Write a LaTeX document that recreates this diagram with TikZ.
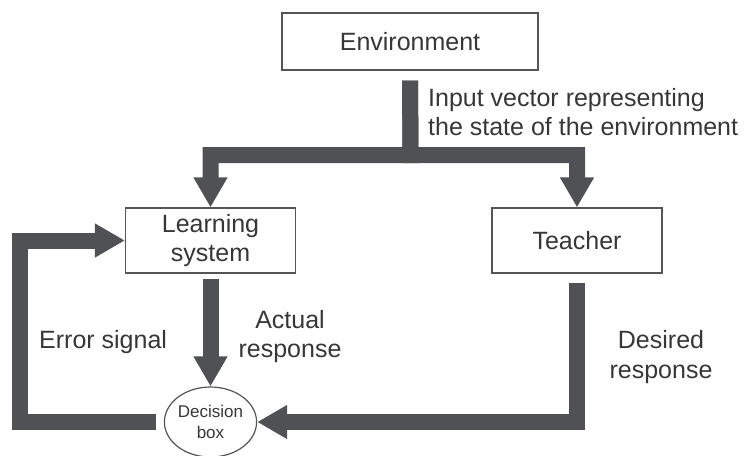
\documentclass[tikz,border=0pt]{standalone}
\usepackage{fontspec}
\setmainfont{Liberation Sans}
\usetikzlibrary{arrows.meta,shapes.geometric}
\definecolor{arrowfill}{RGB}{80,81,84}
\definecolor{boxline}{RGB}{85,85,85}
\definecolor{inktext}{RGB}{55,55,55}
\begin{document}
\begin{tikzpicture}[x=1pt,y=-1pt,
  blockbox/.style={draw=boxline, line width=1.2pt, fill=white, text=inktext,
    minimum width=170pt, minimum height=65pt, align=center, inner sep=0pt,
    font=\fontsize{25}{29}\selectfont},
  lbl/.style={text=inktext, inner sep=0pt, font=\fontsize{25}{29}\selectfont},
  bigarrow/.style={arrowfill, line width=16pt, line join=miter,
    -{Triangle[width=32pt,length=30pt]}}]
\useasboundingbox (0,0) rectangle (749,455);
\clip (0,0) rectangle (749,455);

% blocks
\node[blockbox, minimum width=256pt, minimum height=57pt] (env) at (410,41.5) {Environment};
\node[blockbox] (ls) at (210.5,240.5) {Learning\\system};
\node[blockbox] (teacher) at (577,240.5) {Teacher};
\node[ellipse, draw=boxline, line width=1.2pt, fill=white, text=inktext,
  minimum width=82pt, minimum height=70pt, inner sep=0pt, align=center,
  font=\fontsize{17}{21}\selectfont] (dec) at (210.5,422) {Decision\\box};

% input vector splits to learner and teacher
\coordinate (split) at (410.5,155);
\draw[bigarrow] ([yshift=-10pt]env.south) -- (split) -| (ls.north);
\draw[bigarrow] ([yshift=-10pt]env.south) -- (split) -| (teacher.north);

% actual response
\draw[bigarrow] ([yshift=-5pt]ls.south) -- (dec.north);

% desired response
\draw[bigarrow] ([yshift=-9pt]teacher.south) |- (dec.east);

% error signal fed back to the learner
\draw[bigarrow] ([xshift=-8pt]dec.west) -| ([xshift=-105pt]ls.west) -- (ls.west);

% labels (base anchor sits on the last line)
\node[lbl, align=left, anchor=base west] (inlbl) at (428,135)
  {Input vector representing\\the state of the environment};
\node[lbl, anchor=base west] (errlbl) at (39,348) {Error signal};
\node[lbl, align=center, anchor=base] (actlbl) at (290,357) {Actual\\response};
\node[lbl, align=center, anchor=base, font=\fontsize{25}{30}\selectfont] (deslbl) at (661,378) {Desired\\response};
\end{tikzpicture}
\end{document}
